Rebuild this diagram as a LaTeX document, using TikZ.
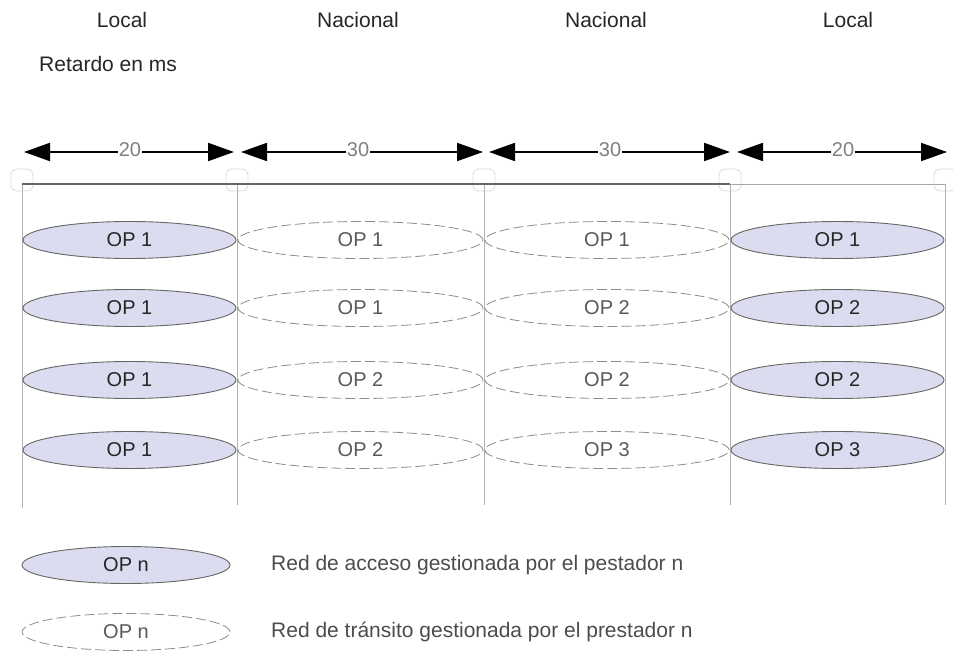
\documentclass[tikz,border=0pt]{standalone}
\usepackage{fontspec}
\setmainfont{Liberation Sans}
\usetikzlibrary{arrows.meta,shapes.geometric}
\definecolor{acfill}{RGB}{220,220,240}
\tikzset{
  txt/.style={font=\fontsize{21}{24}\selectfont, text=black!85, inner sep=1pt},
  acc/.style={ellipse, draw=black!60, line width=0.9pt, fill=acfill, minimum height=37pt, inner sep=0pt, font=\fontsize{20}{23}\selectfont, text=black!85},
  tra/.style={ellipse, draw=black!45, dashed, dash pattern=on 10pt off 4pt, line width=0.8pt, fill=white, minimum height=37pt, inner sep=0pt, font=\fontsize{20}{23}\selectfont, text=black!65},
  dly/.style={{Triangle[length=26pt,width=18pt]}-{Triangle[length=26pt,width=18pt]}, line width=2pt, black},
  dlab/.style={fill=white, inner sep=1pt, font=\fontsize{20}{23}\selectfont, text=black!50},
  grid/.style={draw=black!30, line width=0.8pt},
  corner/.style={draw=black!15, rounded corners=6pt, line width=0.8pt, minimum size=22pt, inner sep=0pt}
}
\begin{document}
\begin{tikzpicture}[x=1pt,y=-1pt]
\useasboundingbox (0,0) rectangle (953,652);
% headers
\node[txt] (h1) at (122,20) {Local};
\node[txt] (h2) at (358,20) {Nacional};
\node[txt] (h3) at (606,20) {Nacional};
\node[txt] (h4) at (848,20) {Local};
\node[txt, anchor=west] (ret) at (38,64) {Retardo en ms};
% delay arrows
\coordinate (a1s) at (24,152);  \coordinate (a1e) at (234,152);
\coordinate (a2s) at (241,152); \coordinate (a2e) at (483,152);
\coordinate (a3s) at (489,152); \coordinate (a3e) at (730,152);
\coordinate (a4s) at (737,152); \coordinate (a4e) at (947,152);
\draw[dly] (a1s) -- (a1e);
\draw[dly] (a2s) -- (a2e);
\draw[dly] (a3s) -- (a3e);
\draw[dly] (a4s) -- (a4e);
\node[dlab] (d1) at (130,150) {20};
\node[dlab] (d2) at (358,150) {30};
\node[dlab] (d3) at (610,150) {30};
\node[dlab] (d4) at (843,150) {20};
% corner marks
\foreach \x [count=\i] in {22,237,484,730,945}{
  \node[corner] (k\i) at (\x,180) {};
}
% grid
\coordinate (t0) at (22,184);  \coordinate (b0) at (22,508);
\coordinate (t1) at (237,184); \coordinate (b1) at (237,505);
\coordinate (t2) at (484,184); \coordinate (b2) at (484,505);
\coordinate (t3) at (730,184); \coordinate (b3) at (730,505);
\coordinate (t4) at (945,184); \coordinate (b4) at (945,505);
\draw[grid] (t0) -- (b0);
\draw[grid] (t1) -- (b1);
\draw[grid] (t2) -- (b2);
\draw[grid] (t3) -- (b3);
\draw[grid] (t4) -- (b4);
\draw[black!60, line width=2.2pt] (t0) -- (t3);
\draw[black!35, line width=0.8pt] (t3) -- (t4);
% ellipses
\foreach \y/\a/\b/\c/\d [count=\i] in {240/1/1/1/1, 308/1/1/2/2, 380/1/2/2/2, 450/1/2/3/3}{
  \node[acc, minimum width=213pt] (e\i a) at (129.5,\y) {OP \a};
  \node[tra, minimum width=245pt] (e\i b) at (360.5,\y) {OP \b};
  \node[tra, minimum width=244pt] (e\i c) at (607,\y) {OP \c};
  \node[acc, minimum width=213pt] (e\i d) at (837.5,\y) {OP \d};
}
% legend
\node[acc, minimum width=208pt] (la) at (126,565) {OP n};
\node[tra, minimum width=208pt] (lt) at (126,632) {OP n};
\node[txt, anchor=west, text=black!70] (lat) at (270,565) {Red de acceso gestionada por el pestador n};
\node[txt, anchor=west, text=black!70] (ltt) at (270,632) {Red de tránsito gestionada por el prestador n};
\end{tikzpicture}
\end{document}
